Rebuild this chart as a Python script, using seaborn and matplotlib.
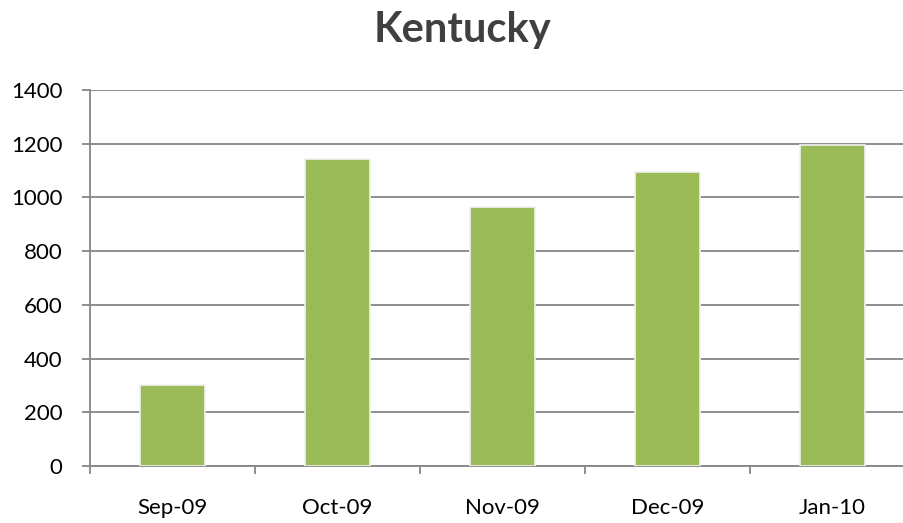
import matplotlib
matplotlib.use('Agg')
import matplotlib.pyplot as plt
import seaborn as sns
import pandas as pd
from matplotlib.ticker import FixedLocator

# data
months = ['Sep-09', 'Oct-09', 'Nov-09', 'Dec-09', 'Jan-10']
counts = [300, 1142, 965, 1093, 1194]
y_ticks = [0, 200, 400, 600, 800, 1000, 1200, 1400]

df = pd.DataFrame({'Month': months, 'Count': counts})

sns.set_style('white')
plt.rcParams['font.family'] = ['Lato', 'DejaVu Sans']

fig = plt.figure(figsize=(9.04, 5.23), dpi=100)
ax = fig.add_axes([90 / 904, 1 - 466 / 523, 825 / 904, 376 / 523])

sns.barplot(data=df, x='Month', y='Count', color='#9BBB59', width=0.39,
            saturation=1, edgecolor='#f2f2f2', linewidth=1.2, ax=ax, zorder=3)

ax.set_ylim(0, 1400)
ax.set_xlim(-0.5, len(months) - 0.5)
ax.set_yticks(y_ticks)
ax.yaxis.grid(True, color='#868686', linewidth=1.3, zorder=0)
ax.set_axisbelow(True)

for side in ['top', 'right']:
    ax.spines[side].set_visible(False)
for side in ['left', 'bottom']:
    ax.spines[side].set_color('#868686')
    ax.spines[side].set_linewidth(1.3)

ax.tick_params(axis='y', which='major', length=6, width=1.3, color='#868686',
               labelsize=16, labelcolor='black', pad=14, left=True)
ax.tick_params(axis='x', which='major', length=0, labelsize=16,
               labelcolor='black', pad=23)
ax.xaxis.set_minor_locator(FixedLocator([i - 0.5 for i in range(len(months) + 1)]))
ax.tick_params(axis='x', which='minor', length=6, width=1.3, color='#868686',
               bottom=True, direction='out')
ax.set_xlabel('')
ax.set_ylabel('')

fig.text(463 / 904, 1 - 42 / 523, 'Kentucky', ha='center', va='baseline',
         fontsize=30, fontweight='bold', color='#404040')

fig.savefig('out.png', dpi=100)
